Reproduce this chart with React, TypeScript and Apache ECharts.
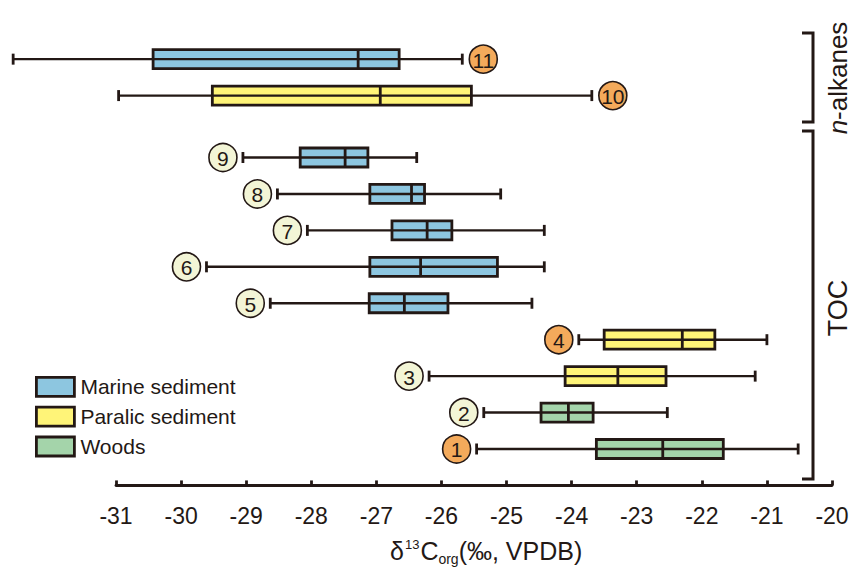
import React, { useEffect, useRef } from "react";
import * as echarts from "echarts";

// ---- data (δ13C values, ‰ VPDB) ----
const sampleIds = ["1", "2", "3", "4", "5", "6", "7", "8", "9", "10", "11"];
const rowPosition = [1, 2, 3, 4, 5, 6, 7, 8, 9, 10.7, 11.7];
const whiskerMin = [-25.46, -25.35, -26.19, -23.89, -28.63, -29.61, -28.06, -28.52, -29.05, -30.96, -32.58];
const quartile1 = [-23.62, -24.47, -24.1, -23.5, -27.11, -27.1, -26.76, -27.1, -28.17, -29.52, -30.43];
const medianVal = [-22.6, -24.05, -23.29, -22.3, -26.57, -26.32, -26.22, -26.46, -27.48, -26.94, -27.28];
const quartile3 = [-21.67, -23.67, -22.55, -21.8, -25.9, -25.14, -25.84, -26.26, -27.13, -25.54, -26.65];
const whiskerMax = [-20.52, -22.53, -21.18, -21.0, -24.61, -24.42, -24.42, -25.09, -26.38, -23.69, -25.68];
const sampleType = [
  "Woods", "Woods", "Paralic sediment", "Paralic sediment",
  "Marine sediment", "Marine sediment", "Marine sediment", "Marine sediment", "Marine sediment",
  "Paralic sediment", "Marine sediment",
];
const labelSide = ["left", "left", "left", "left", "left", "left", "left", "left", "left", "right", "right"];
const labelKind = ["orange", "cream", "cream", "orange", "cream", "cream", "cream", "cream", "cream", "orange", "orange"];
const typeNames = ["Marine sediment", "Paralic sediment", "Woods"];
const xTicks = [-31, -30, -29, -28, -27, -26, -25, -24, -23, -22, -21, -20];

const INK = "#231815";
const FONT = "'Liberation Sans', Arial, Helvetica, sans-serif";
const typeFill: Record<string, string> = {
  "Marine sediment": "#8DC6E0",
  "Paralic sediment": "#FFF478",
  Woods: "#A4D4AA",
};
const circleFill: Record<string, string> = { orange: "#F4AA5B", cream: "#F3F5D6" };

function renderItem(params: any, api: any) {
  const pos = api.value(0);
  const lo = api.coord([api.value(1), pos]);
  const b1 = api.coord([api.value(2), pos]);
  const md = api.coord([api.value(3), pos]);
  const b3 = api.coord([api.value(4), pos]);
  const hi = api.coord([api.value(5), pos]);
  const idx = api.value(6);
  const type = sampleType[idx];
  const yc = lo[1];
  const h = 19;
  const cap = 5.5;
  const cx = labelSide[idx] === "right" ? hi[0] + 21 : lo[0] - 20;
  const ln = (x1: number, y1: number, x2: number, y2: number, w: number) => ({
    type: "line",
    shape: { x1, y1, x2, y2 },
    style: { stroke: INK, lineWidth: w },
  });
  return {
    type: "group",
    children: [
      ln(lo[0], yc, hi[0], yc, 2.4),
      ln(lo[0], yc - cap, lo[0], yc + cap, 2.8),
      ln(hi[0], yc - cap, hi[0], yc + cap, 2.8),
      {
        type: "rect",
        shape: { x: b1[0], y: yc - h / 2, width: b3[0] - b1[0], height: h },
        style: { fill: typeFill[type], stroke: INK, lineWidth: 2.8 },
      },
      ln(b1[0], yc, b3[0], yc, 2.4),
      ln(md[0], yc - h / 2, md[0], yc + h / 2, 2.8),
      {
        type: "circle",
        shape: { cx, cy: yc, r: 14 },
        style: { fill: circleFill[labelKind[idx]], stroke: INK, lineWidth: 1.6 },
      },
      {
        type: "text",
        style: {
          text: sampleIds[idx],
          x: cx,
          y: yc + 1,
          align: "center",
          verticalAlign: "middle",
          fontSize: 21,
          fontFamily: FONT,
          fill: INK,
        },
      },
    ],
  };
}

export default function App() {
  const ref = useRef<HTMLDivElement>(null);
  useEffect(() => {
    if (!ref.current) return;
    const chart = echarts.init(ref.current, null, { renderer: "svg" });
    const series = typeNames.map((t) => ({
      type: "custom",
      name: t,
      clip: false,
      renderItem,
      itemStyle: { color: typeFill[t], borderColor: INK, borderWidth: 2.8 },
      encode: { x: [1, 2, 3, 4, 5], y: 0 },
      data: sampleIds
        .map((_, i) => i)
        .filter((i) => sampleType[i] === t)
        .map((i) => [rowPosition[i], whiskerMin[i], quartile1[i], medianVal[i], quartile3[i], whiskerMax[i], i]),
    }));
    chart.setOption({
      animation: false,
      backgroundColor: "#ffffff",
      textStyle: { fontFamily: FONT },
      grid: { left: 116, right: 21, top: 30, bottom: 70 },
      xAxis: {
        type: "value",
        min: xTicks[0],
        max: xTicks[xTicks.length - 1],
        interval: 1,
        splitLine: { show: false },
        axisLine: { show: true, lineStyle: { color: INK, width: 2.8 } },
        axisTick: { show: true, inside: true, length: 5, lineStyle: { color: INK, width: 2.8 } },
        axisLabel: { color: INK, fontSize: 23, margin: 4, fontFamily: FONT },
      },
      yAxis: { type: "value", min: -0.4, max: 12.5, show: false },
      legend: {
        orient: "vertical",
        left: 35,
        top: 376,
        padding: 0,
        itemWidth: 38,
        itemHeight: 19,
        itemGap: 8,
        selectedMode: false,
        textStyle: { fontSize: 21, color: INK, fontFamily: FONT, padding: [0, 0, 0, 1] },
        data: typeNames.map((t) => ({
          name: t,
          icon: "rect",
          itemStyle: { color: typeFill[t], borderColor: INK, borderWidth: 2.8 },
        })),
      },
      graphic: [
        {
          type: "polyline",
          shape: { points: [[802, 33], [813, 33], [813, 122], [802, 122]] },
          style: { stroke: INK, lineWidth: 3, fill: "none" },
        },
        {
          type: "polyline",
          shape: { points: [[802, 131], [813, 131], [813, 479], [802, 479]] },
          style: { stroke: INK, lineWidth: 3, fill: "none" },
        },
        {
          type: "text",
          x: 838,
          y: 78,
          rotation: Math.PI / 2,
          style: {
            text: "{i|n}{r|-alkanes}",
            align: "center",
            verticalAlign: "middle",
            rich: {
              i: { fontSize: 26, fontStyle: "italic", fill: INK, fontFamily: FONT },
              r: { fontSize: 26, fill: INK, fontFamily: FONT },
            },
          },
        },
        {
          type: "text",
          x: 838,
          y: 308,
          rotation: Math.PI / 2,
          style: {
            text: "TOC",
            align: "center",
            verticalAlign: "middle",
            fontSize: 27,
            fill: INK,
            fontFamily: FONT,
          },
        },
        {
          type: "text",
          x: 390,
          y: 551,
          style: {
            text: "{n|δ}{sup|13}{n|C}{sub|org}{n|(‰, VPDB)}",
            align: "left",
            verticalAlign: "middle",
            rich: {
              n: { fontSize: 25, lineHeight: 30, fill: INK, fontFamily: FONT },
              sup: { fontSize: 13, lineHeight: 30, verticalAlign: "top", fill: INK, fontFamily: FONT, padding: [2, 1, 0, 1] },
              sub: { fontSize: 14, lineHeight: 30, verticalAlign: "bottom", fill: INK, fontFamily: FONT },
            },
          },
        },
      ],
      series,
    });
    return () => chart.dispose();
  }, []);
  return (
    <div
      ref={ref}
      style={{ position: "fixed", left: 0, top: 0, width: 853, height: 570, background: "#fff" }}
    />
  );
}
